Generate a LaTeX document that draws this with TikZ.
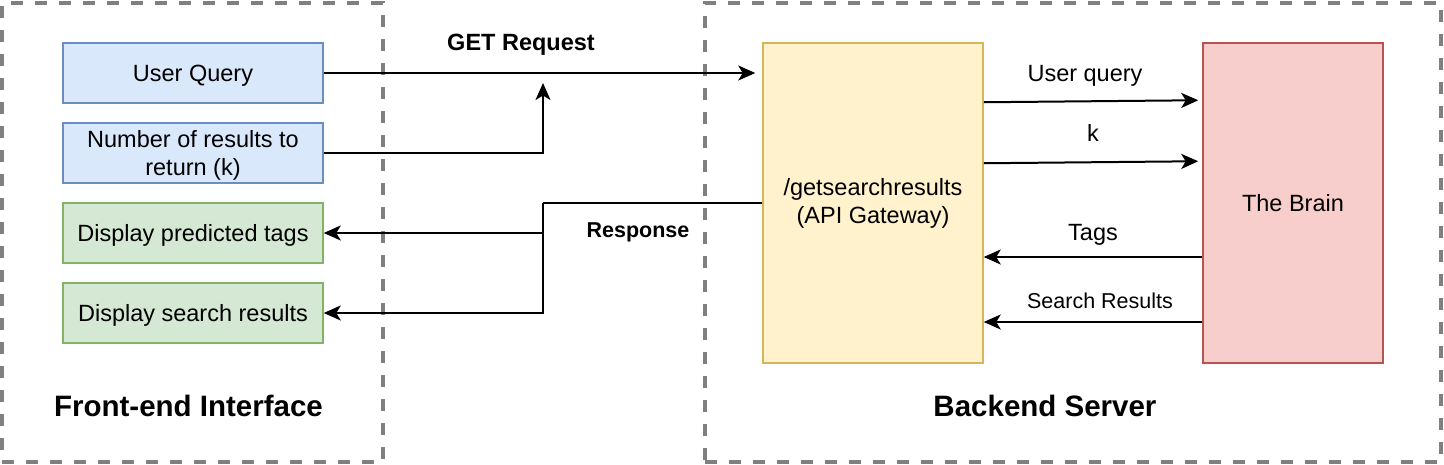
\documentclass[tikz,border=0pt]{standalone}
\usepackage{fontspec}
\setmainfont{Liberation Sans}
\usetikzlibrary{arrows.meta}
\definecolor{bluefill}{HTML}{DAE8FC}
\definecolor{bluedraw}{HTML}{6C8EBF}
\definecolor{greenfill}{HTML}{D5E8D4}
\definecolor{greendraw}{HTML}{82B366}
\definecolor{yellowfill}{HTML}{FFF2CC}
\definecolor{yellowdraw}{HTML}{D6B656}
\definecolor{redfill}{HTML}{F8CECC}
\definecolor{reddraw}{HTML}{B85450}
\definecolor{groupgray}{HTML}{808080}
\tikzset{
  grp/.style={draw=groupgray, line width=3.5pt, dash pattern=on 12pt off 12pt, rectangle, inner sep=0pt},
  boxbase/.style={rectangle, line width=1.5pt, inner sep=0pt, align=center,
    font=\fontsize{23.5}{28}\selectfont},
  oneline/.style={text height=17pt, text depth=0pt},
  bluebox/.style={boxbase, oneline, fill=bluefill, draw=bluedraw, minimum width=260pt, minimum height=60pt},
  blueboxtwo/.style={boxbase, fill=bluefill, draw=bluedraw, minimum width=260pt, minimum height=60pt},
  greenbox/.style={boxbase, oneline, fill=greenfill, draw=greendraw, minimum width=260pt, minimum height=60pt},
  apibox/.style={boxbase, fill=yellowfill, draw=yellowdraw, minimum width=220pt, minimum height=320pt},
  brainbox/.style={boxbase, oneline, fill=redfill, draw=reddraw, minimum width=180pt, minimum height=320pt},
  arr/.style={line width=2pt, -{Stealth[length=17pt,width=15pt,inset=4.5pt]}},
  plain/.style={line width=2pt},
  lbl/.style={anchor=base, inner sep=0pt, font=\fontsize{23.5}{28}\selectfont},
  smalllbl/.style={anchor=base, inner sep=0pt, font=\fontsize{21.5}{26}\selectfont},
  boldlbl/.style={anchor=base, inner sep=0pt, font=\fontsize{23.5}{28}\selectfont\bfseries},
  boldsmall/.style={anchor=base, inner sep=0pt, font=\fontsize{21.5}{26}\selectfont\bfseries},
  titlelbl/.style={anchor=base, inner sep=0pt, font=\fontsize{29.5}{34}\selectfont\bfseries},
}
\begin{document}
\begin{tikzpicture}[x=1pt, y=-1pt]
\useasboundingbox (0,0) rectangle (1444,464);

% group containers
\node[grp, minimum width=381pt, minimum height=459pt] (fe) at (192.5,232.5) {};
\node[grp, minimum width=736pt, minimum height=459pt] (be) at (1073,232.5) {};

% boxes
\node[bluebox] (uq) at (193,73) {User Query};
\node[blueboxtwo] (nr) at (193,153) {\rule{0pt}{22pt}Number of results to\\return (k)};
\node[greenbox] (tags) at (193,233) {Display predicted tags};
\node[greenbox] (res) at (193,313) {Display search results};
\node[apibox] (api) at (873,203) {/getsearchresults\\ (API Gateway)};
\node[brainbox] (brain) at (1293,203) {The Brain};

% junction coordinates
\coordinate (gj) at (543,83);
\coordinate (rj) at (543,203);

% front-end -> API
\draw[arr, shorten >=7pt] (uq.east) -- (uq.east -| api.west);
\draw[arr] (nr.east) -| (gj);

% API -> front-end
\draw[plain] (api.west) -- (rj);
\draw[arr] (rj) |- (tags.east);
\draw[arr] (rj) |- (res.east);

% API <-> Brain
\draw[arr] ([yshift=-60pt]api.north east) -- ([xshift=-4pt,yshift=-58pt]brain.north west);
\draw[arr] ([yshift=-121pt]api.north east) -- ([xshift=-4pt,yshift=-119pt]brain.north west);
\draw[arr] ([yshift=-54pt]brain.west) -- ([yshift=-54pt]api.east);
\draw[arr] ([yshift=-119pt]brain.west) -- ([yshift=-119pt]api.east);

% labels
\node[boldlbl] (getlbl) at (521,50) {GET Request};
\node[boldsmall] (resplbl) at (638,237.5) {Response};
\node[lbl] (uqlbl) at (1085,81) {User query};
\node[lbl] (klbl) at (1093,141) {k};
\node[lbl] (tagslbl) at (1093,240) {Tags};
\node[smalllbl] (srlbl) at (1100,308) {Search Results};
\node[titlelbl] (fetitle) at (188.5,416) {Front-end Interface};
\node[titlelbl] (betitle) at (1045,416) {Backend Server};
\end{tikzpicture}
\end{document}
